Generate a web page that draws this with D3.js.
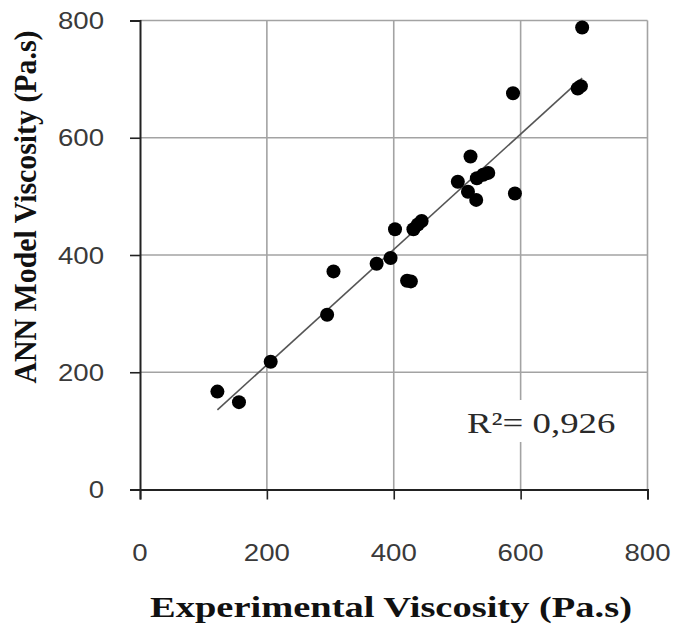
<!DOCTYPE html>
<html>
<head>
<meta charset="utf-8">
<script src="https://cdn.jsdelivr.net/npm/d3@7"></script>
<style>
  html, body { margin: 0; padding: 0; background: #fff; }
  svg { display: block; }
</style>
</head>
<body>
<svg id="chart" width="678" height="627"></svg>
<script>
// Measured vs. predicted viscosity (Pa.s)
const experimental = [122, 156, 206, 295, 305, 373, 395, 402, 421, 427, 431, 438, 444,
                      501, 517, 521, 530, 531, 541, 549, 588, 591, 690, 695, 697];
const annModel     = [167, 149, 218, 298, 372, 385, 395, 444, 356, 355, 444, 452, 458,
                      525, 508, 568, 494, 531, 537, 540, 676, 505, 684, 688, 788];
const xTicks = [0, 200, 400, 600, 800];
const yTicks = [0, 200, 400, 600, 800];
const xTitle = "Experimental Viscosity (Pa.s)";
const yTitle = "ANN Model Viscosity (Pa.s)";
const r2Label = "R²= 0,926";
// Linear trend line (least squares) coefficients
const trendSlope = 0.984;
const trendIntercept = 15.8;

const svg = d3.select("#chart");
const plot = { left: 140, right: 647.5, top: 20.5, bottom: 489.5 };
const sx = 1.15; // horizontal glyph stretch

const x = d3.scaleLinear().domain([0, 800]).range([plot.left, plot.right]);
const y = d3.scaleLinear().domain([0, 800]).range([plot.bottom, plot.top]);

const gridColor = "#a3a3a3";

// Grid lines
svg.append("g").selectAll("line.v").data(xTicks.slice(1)).join("line")
  .attr("x1", d => x(d)).attr("x2", d => x(d))
  .attr("y1", plot.top).attr("y2", plot.bottom)
  .attr("stroke", gridColor).attr("stroke-width", 1.6);
svg.append("g").selectAll("line.h").data(yTicks.slice(1)).join("line")
  .attr("x1", plot.left).attr("x2", plot.right)
  .attr("y1", d => y(d)).attr("y2", d => y(d))
  .attr("stroke", gridColor).attr("stroke-width", 1.6);

// Axes
const xAxis = d3.axisBottom(x).tickValues(xTicks).tickSize(10).tickFormat("");
const yAxis = d3.axisLeft(y).tickValues(yTicks).tickSize(10).tickFormat("");
const gx = svg.append("g").attr("transform", `translate(0,${plot.bottom})`).call(xAxis);
const gy = svg.append("g").attr("transform", `translate(${plot.left},0)`).call(yAxis);
[gx, gy].forEach(g => {
  g.select(".domain").attr("stroke", "#222").attr("stroke-width", 2);
  g.selectAll(".tick line").attr("stroke", "#222").attr("stroke-width", 1.6);
});

// Tick labels
const tickFont = "'Liberation Sans', Arial, sans-serif";
svg.append("g").selectAll("text").data(xTicks).join("text")
  .attr("transform", d => `translate(${x(d)},561) scale(${sx},1)`)
  .attr("text-anchor", "middle")
  .attr("font-family", tickFont).attr("font-size", 24).attr("fill", "#3a3a3a")
  .text(d => d);
svg.append("g").selectAll("text").data(yTicks).join("text")
  .attr("transform", d => `translate(104,${y(d) + 8.5}) scale(${sx},1)`)
  .attr("text-anchor", "end")
  .attr("font-family", tickFont).attr("font-size", 24).attr("fill", "#3a3a3a")
  .text(d => d);

// Trend line
const xr = d3.extent(experimental);
svg.append("line")
  .attr("x1", x(xr[0])).attr("y1", y(trendSlope * xr[0] + trendIntercept))
  .attr("x2", x(xr[1])).attr("y2", y(trendSlope * xr[1] + trendIntercept))
  .attr("stroke", "#555").attr("stroke-width", 1.6);

// Points
svg.append("g").selectAll("ellipse").data(experimental.map((e, i) => [e, annModel[i]])).join("ellipse")
  .attr("cx", d => x(d[0])).attr("cy", d => y(d[1]))
  .attr("rx", 7).attr("ry", 7)
  .attr("fill", "#000");

// R² annotation
svg.append("rect").attr("x", 462).attr("y", 400).attr("width", 158).attr("height", 42).attr("fill", "#fff");
svg.append("text")
  .attr("transform", `translate(467,433) scale(${sx},1)`)
  .attr("font-family", "'Liberation Serif', 'Times New Roman', serif")
  .attr("font-size", 30).attr("fill", "#2a2a2a")
  .attr("textLength", 129).attr("lengthAdjust", "spacingAndGlyphs")
  .text(r2Label);

// Axis titles
const titleFont = "'Liberation Serif', 'Times New Roman', serif";
svg.append("text")
  .attr("x", 391).attr("y", 617)
  .attr("text-anchor", "middle")
  .attr("font-family", titleFont).attr("font-weight", "bold").attr("font-size", 30)
  .attr("textLength", 482).attr("lengthAdjust", "spacingAndGlyphs")
  .attr("fill", "#111")
  .text(xTitle);
svg.append("text")
  .attr("transform", `translate(36,207) rotate(-90)`)
  .attr("text-anchor", "middle")
  .attr("font-family", titleFont).attr("font-weight", "bold").attr("font-size", 31)
  .attr("textLength", 353).attr("lengthAdjust", "spacingAndGlyphs")
  .attr("fill", "#111")
  .text(yTitle);
</script>
</body>
</html>
